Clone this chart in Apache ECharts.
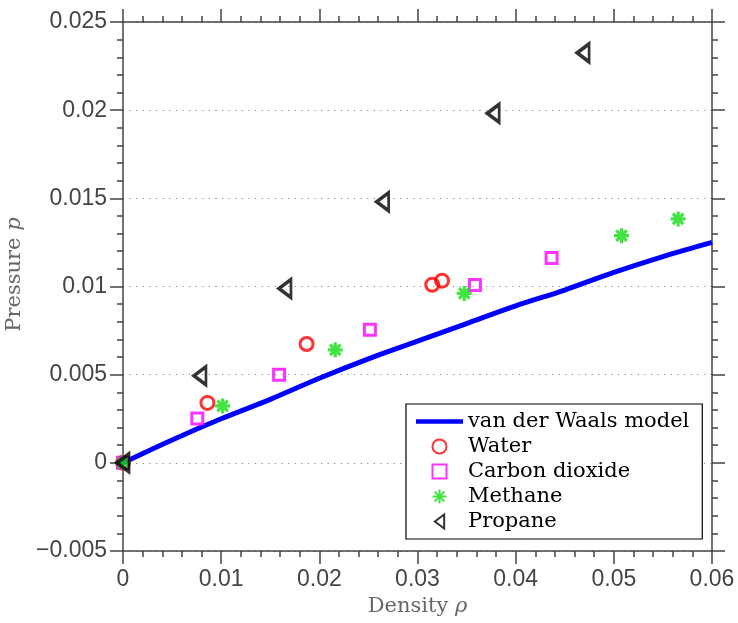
<!DOCTYPE html>
<html>
<head>
<meta charset="utf-8">
<script src="https://cdn.jsdelivr.net/npm/echarts@6/dist/echarts.min.js"></script>
<style>html,body{margin:0;padding:0;background:#fff}#c{width:738px;height:623px}</style>
</head>
<body>
<div id="c"></div>
<script>
// van der Waals model curve (density, pressure)
const modelRho = [0, 0.005, 0.01, 0.015, 0.02, 0.025, 0.03, 0.035, 0.04, 0.045, 0.05, 0.055, 0.06];
const modelP   = [0, 0.0013, 0.0025, 0.0036, 0.0048, 0.0059, 0.0069, 0.0079, 0.0089, 0.0098, 0.0108, 0.0117, 0.0125];
// measured data
const waterRho   = [0, 0.0086, 0.0187, 0.0315, 0.0325];
const waterP     = [0, 0.0034, 0.00674, 0.0101, 0.01033];
const co2Rho     = [0, 0.00757, 0.0159, 0.02515, 0.03585, 0.04366];
const co2P       = [0, 0.00251, 0.00499, 0.00755, 0.01008, 0.01162];
const methaneRho = [0, 0.01015, 0.02162, 0.03476, 0.05078, 0.05655];
const methaneP   = [0, 0.00323, 0.00641, 0.00961, 0.01288, 0.01383];
const propaneRho = [0, 0.00784, 0.0165, 0.02645, 0.03771, 0.04687];
const propaneP   = [0, 0.00494, 0.00989, 0.01481, 0.01982, 0.02325];
const seriesNames = ['van der Waals model', 'Water', 'Carbon dioxide', 'Methane', 'Propane'];
const xTicks = {min: 0, max: 0.06, interval: 0.01};
const yTicks = {min: -0.005, max: 0.025, interval: 0.005};

const zip = (a, b) => a.map((v, i) => [v, b[i]]);
const axisCol = '#444';
const tickFont = '"Liberation Sans", Arial, sans-serif';
const serif = '"DejaVu Serif", serif';
const NONE = 'rgba(0,0,0,0)';

function xAxisDef(pos, labels) {
  return {
    type: 'value', position: pos, min: xTicks.min, max: xTicks.max, interval: xTicks.interval,
    axisLine: {show: true, onZero: false, lineStyle: {color: axisCol, width: 1.5}},
    axisTick: {show: true, inside: false, length: 13, lineStyle: {color: axisCol, width: 1.5}},
    minorTick: {show: true, splitNumber: 5, length: 6, lineStyle: {color: axisCol, width: 1.5}},
    splitLine: {show: false},
    axisLabel: {show: labels, fontFamily: tickFont, fontSize: 23, color: '#444', margin: 17,
      formatter: v => v === 0 ? '0' : String(+v.toFixed(4))},
    name: labels ? 'Density {i|ρ}' : '', nameLocation: 'middle', nameGap: 44,
    nameTextStyle: {fontFamily: serif, fontSize: 21, color: '#666',
      rich: {i: {fontFamily: serif, fontStyle: 'italic', fontSize: 21, color: '#666'}}}
  };
}
function yAxisDef(pos, labels) {
  return {
    type: 'value', position: pos, min: yTicks.min, max: yTicks.max, interval: yTicks.interval,
    axisLine: {show: true, onZero: false, lineStyle: {color: axisCol, width: 1.5}},
    axisTick: {show: true, inside: false, length: 13, lineStyle: {color: axisCol, width: 1.5}},
    minorTick: {show: true, splitNumber: 5, length: 6, lineStyle: {color: axisCol, width: 1.5}},
    splitLine: {show: labels, lineStyle: {color: '#888', type: [1.2, 5.4], width: 1}},
    axisLabel: {show: labels, fontFamily: tickFont, fontSize: 23, color: '#444', margin: 16,
      formatter: v => v === 0 ? '0' : (v < 0 ? '\u2212' + String(+Math.abs(v).toFixed(4)) : String(+v.toFixed(4)))},
    name: labels ? 'Pressure {i|p}' : '', nameLocation: 'middle', nameGap: 90,
    nameTextStyle: {fontFamily: serif, fontSize: 21, color: '#666', padding: [0, 0, 0, 24],
      rich: {i: {fontFamily: serif, fontStyle: 'italic', fontSize: 21, color: '#666'}}}
  };
}

const hollow = (c, w) => ({color: NONE, borderColor: c, borderWidth: w});
const SQUARE = 'path://M0,0L10,0L10,10L0,10Z';
const STAR = 'path://M5,0L5,10M0,5L10,5M1.5,1.5L8.5,8.5M1.5,8.5L8.5,1.5';
const TRI = 'path://M0,6L8,0L8,12Z';
const chart = echarts.init(document.getElementById('c'), null, {renderer: 'canvas'});
chart.setOption({
  animation: false,
  backgroundColor: '#fff',
  grid: {left: 123, right: 26, top: 22, bottom: 72, containLabel: false, outerBoundsMode: 'none'},
  xAxis: [xAxisDef('bottom', true), xAxisDef('top', false)],
  yAxis: [yAxisDef('left', true), yAxisDef('right', false)],
  legend: {
    orient: 'vertical', left: 406, top: 404,
    padding: [7, 13, 7, 10], itemGap: 4, itemWidth: 47, itemHeight: 14,
    backgroundColor: '#fff', borderColor: '#000', borderWidth: 1.2, borderRadius: 0,
    textStyle: {fontFamily: serif, fontSize: 21, color: '#000', lineHeight: 20},
    data: [
      {name: seriesNames[0], icon: 'path://M0,0L47,0L47,4.5L0,4.5Z', itemStyle: {color: '#0000ff', borderWidth: 0}},
      {name: seriesNames[1], icon: 'circle'},
      {name: seriesNames[2], icon: SQUARE},
      {name: seriesNames[3], icon: STAR},
      {name: seriesNames[4], icon: TRI}
    ]
  },
  series: [
    {name: seriesNames[0], type: 'line', data: zip(modelRho, modelP), showSymbol: false, symbol: 'none',
      smooth: 0.35, lineStyle: {color: '#0000ff', width: 5}, itemStyle: {color: '#0000ff'}, z: 1},
    {name: seriesNames[1], type: 'scatter', data: zip(waterRho, waterP), symbol: 'circle', symbolSize: 13,
      itemStyle: hollow('#ff0000', 3), clip: false, z: 2},
    {name: seriesNames[2], type: 'scatter', data: zip(co2Rho, co2P), symbol: SQUARE, symbolSize: 11,
      itemStyle: hollow('#ff00ff', 3), clip: false, z: 3},
    {name: seriesNames[3], type: 'scatter', data: zip(methaneRho, methaneP),
      symbol: STAR, symbolSize: 15,
      itemStyle: {color: '#11dd11', borderColor: '#11dd11', borderWidth: 3.2}, clip: false, z: 4},
    {name: seriesNames[4], type: 'scatter', data: zip(propaneRho, propaneP),
      symbol: TRI, symbolSize: [12, 18],
      itemStyle: hollow('#000000', 3.3), clip: false, z: 5}
  ]
});
</script>
</body>
</html>
